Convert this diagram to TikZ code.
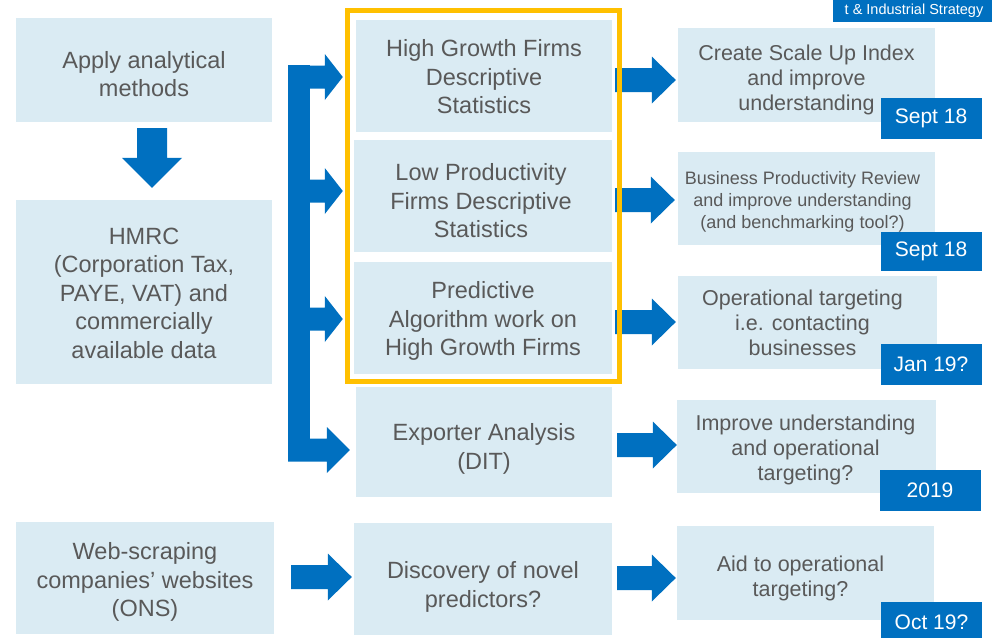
\documentclass[tikz,border=0pt]{standalone}
\usepackage{fontspec}
\setmainfont{Liberation Sans}
\usetikzlibrary{calc}
\definecolor{boxfill}{HTML}{DAEBF3}
\definecolor{arrowblue}{HTML}{0070C0}
\definecolor{frameyellow}{HTML}{FFC000}
\definecolor{txtgrey}{HTML}{595959}

\tikzset{
  % block arrow pointing right: shaft half-height, head half-height, head length
  rarrow/.style n args={3}{to path={let \p1=(\tikztostart), \p2=(\tikztotarget) in
    (\x1,\y1+#1) -- (\x2-#3,\y1+#1) -- (\x2-#3,\y1+#2) -- (\x2,\y1)
    -- (\x2-#3,\y1-#2) -- (\x2-#3,\y1-#1) -- (\x1,\y1-#1) -- cycle}},
  % block arrow pointing down: shaft half-width, head half-width, head length
  darrow/.style n args={3}{to path={let \p1=(\tikztostart), \p2=(\tikztotarget) in
    (\x1-#1,\y1) -- (\x1-#1,\y2+#3) -- (\x1-#2,\y2+#3) -- (\x1,\y2)
    -- (\x1+#2,\y2+#3) -- (\x1+#1,\y2+#3) -- (\x1+#1,\y1) -- cycle}},
  cell/.style={fill=boxfill, inner sep=0pt},
  txt/.style={inner sep=0pt, text=txtgrey, align=center,
    font=\fontsize{23.5}{28.5}\selectfont},
  outtxt/.style={txt, font=\fontsize{21.5}{25}\selectfont},
  datebox/.style={fill=arrowblue, inner sep=0pt, text=white,
    minimum width=101pt, minimum height=41pt, font=\fontsize{21}{25}\selectfont},
  flow/.style={fill=arrowblue, rarrow={12pt}{23.5pt}{24pt}},
  branch/.style={fill=arrowblue, rarrow={11.5pt}{23pt}{#1}},
}

\begin{document}
\begin{tikzpicture}[x=1pt, y=-1pt]
\useasboundingbox (0,0) rectangle (992,637);
\clip (0,0) rectangle (992,637);

% header tab
\fill[arrowblue] (833,-30) rectangle (992,22);
\node[text=white, anchor=base, font=\fontsize{14.5}{17}\selectfont] (header) at (914,14) {t \& Industrial Strategy};

% inputs
\node[cell, minimum width=256pt, minimum height=104pt] (apply) at (144,70) {};
\node[txt] (applyT) at ($(apply)+(0,4)$) {Apply analytical\\methods};
\node[cell, minimum width=256pt, minimum height=184pt] (hmrc) at (144,292) {};
\node[txt] (hmrcT) at ($(hmrc)+(0,1)$) {HMRC\\(Corporation Tax,\\PAYE, VAT) and\\commercially\\available data};
\node[cell, minimum width=258pt, minimum height=112pt] (web) at (145,578) {};
\node[txt] (webT) at ($(web)+(0,4)$) {Web-scraping\\companies’ websites\\(ONS)};

% analyses
\node[cell, minimum width=256pt, minimum height=112pt] (hgf) at (484,76) {};
\node[txt] (hgfT) at ($(hgf)+(0,1)$) {High Growth Firms\\Descriptive\\Statistics};
\node[cell, minimum width=258pt, minimum height=112pt] (lpf) at (483,196) {};
\node[txt] (lpfT) at ($(lpf)+(-2,5)$) {Low Productivity\\Firms Descriptive\\Statistics};
\node[cell, minimum width=258pt, minimum height=112pt] (pred) at (483,318) {};
\node[txt] (predT) at ($(pred)+(0,3)$) {Predictive\\Algorithm work on\\High Growth Firms};
\node[cell, minimum width=256pt, minimum height=110pt] (exp) at (484,442) {};
\node[txt] (expT) at ($(exp)+(0,7)$) {Exporter Analysis\\(DIT)};
\node[cell, minimum width=258pt, minimum height=112pt] (disc) at (483,579) {};
\node[txt] (discT) at ($(disc)+(0,8)$) {Discovery of novel\\predictors?};

% outcomes
\node[cell, minimum width=257pt, minimum height=94pt] (create) at (806.5,75) {};
\node[outtxt] (createT) at ($(create)+(0,5)$) {Create Scale Up Index\\and improve\\understanding};
\node[cell, minimum width=257pt, minimum height=93pt] (bus) at (806.5,198.5) {};
\node[outtxt, font=\fontsize{18}{22}\selectfont] (busT) at ($(bus)+(-4,3)$) {Business Productivity Review\\and improve understanding\\(and benchmarking tool?)};
\node[cell, minimum width=259pt, minimum height=93pt] (oper) at (807.5,322.5) {};
\node[outtxt] (operT) at ($(oper)+(-5,0)$) {Operational targeting\\i.e. contacting\\businesses};
\node[cell, minimum width=259pt, minimum height=93pt] (impr) at (806.5,446.5) {};
\node[outtxt] (imprT) at ($(impr)+(-1,3)$) {Improve understanding\\and operational\\targeting?};
\node[cell, minimum width=257pt, minimum height=94pt] (aid) at (805.5,573) {};
\node[outtxt] (aidT) at ($(aid)+(-5,5)$) {Aid to operational\\targeting?};

% timing tags
\node[datebox] (d1) at (931,118) {Sept 18};
\node[datebox, minimum height=39pt] (d2) at (931,251) {Sept 18};
\node[datebox] (d3) at (931,364) {Jan 19?};
\node[datebox] (d4) at (930,490) {2019};
\node[datebox] (d5) at (931.5,622) {Oct 19?};

% apply -> data
\path[fill=arrowblue, darrow={15pt}{30pt}{30pt}] ($(apply.south)+(8,6)$) to ($(hmrc.north)+(8,-12)$);

% distribution bracket from the data to the analyses
\coordinate (trunk) at (288,65);
\fill[arrowblue] (trunk) rectangle (310,461);
\path[branch=18pt] ($(trunk)+(0,12)$) to ($(hgf.west)+(-13,0)$);
\path[branch=18pt] ($(trunk)+(11,126)$) to ($(lpf.west)+(-11,0)$);
\path[branch=18pt] ($(trunk)+(11,254)$) to ($(pred.west)+(-11,0)$);
\path[branch=23pt] ($(trunk)+(0,385)$) to ($(exp.west)+(-6,0)$);

% analyses -> outcomes
\path[flow] ($(hgf.east)+(3,4)$) to ($(create.west)+(-2,0)$);
\path[flow] ($(lpf.east)+(3,4)$) to ($(bus.west)+(-3,0)$);
\path[flow] ($(pred.east)+(3,4)$) to ($(oper.west)+(-2,0)$);
\path[flow] ($(exp.east)+(5,3)$) to ($(impr.west)+(0,0)$);
\path[flow] ($(web.east)+(17,-1)$) to ($(disc.west)+(-2,0)$);
\path[flow] ($(disc.east)+(5,-1)$) to ($(aid.west)+(-1,0)$);

% highlight frame round the first three analyses
\draw[frameyellow, line width=4.5pt] (347.5,10.5) rectangle (619.5,381.5);
\end{tikzpicture}
\end{document}
